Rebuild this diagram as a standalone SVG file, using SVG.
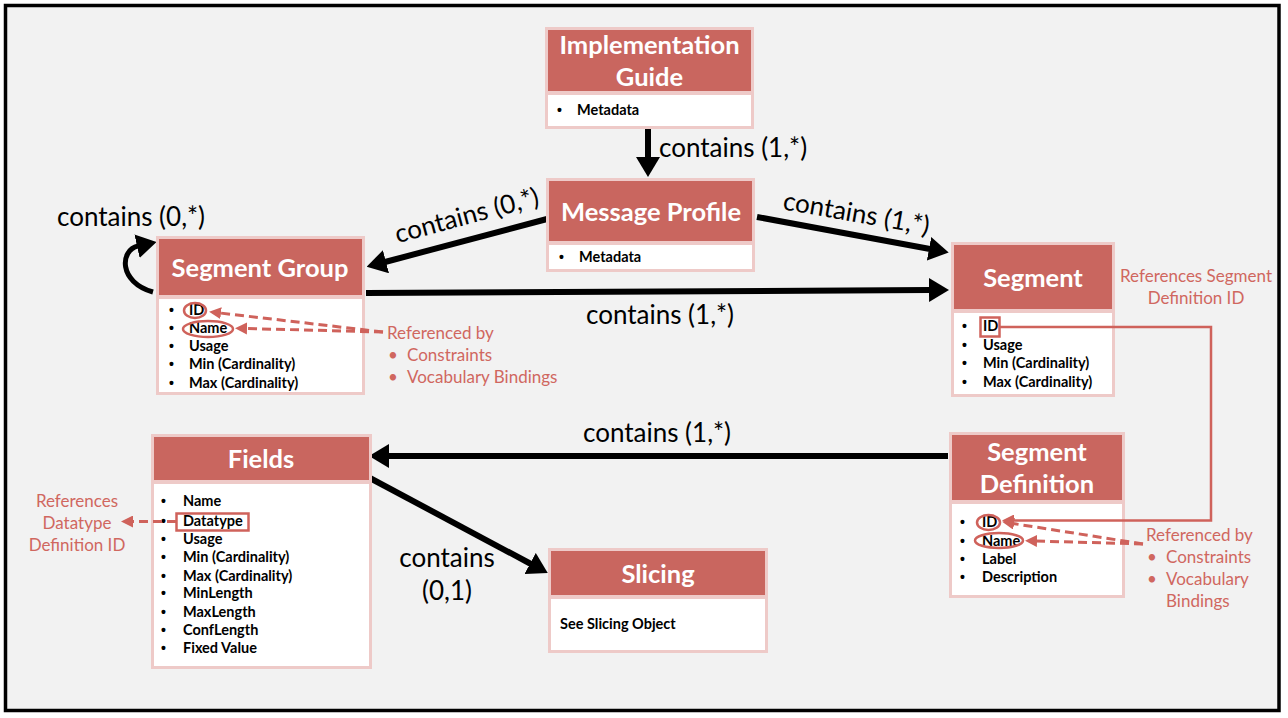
<svg xmlns="http://www.w3.org/2000/svg" width="1288" height="718" viewBox="0 0 1288 718">
<defs>
<style>
.hd{fill:#c9665f;stroke:#eecac8;stroke-width:3}
.bd{fill:#ffffff;stroke:#eecac8;stroke-width:3}
.tt{font-family:Lato,"Open Sans",sans-serif;font-weight:bold;font-size:25.5px;fill:#ffffff;text-anchor:middle}
.it{font-family:Lato,"Open Sans",sans-serif;font-weight:bold;font-size:14.5px;fill:#000000}
.bu{font-family:"Liberation Sans",sans-serif;font-weight:bold;font-size:14px;fill:#000000}
.lb{font-family:Lato,"Open Sans",sans-serif;font-size:26px;fill:#000000}
.an{font-family:Lato,"Open Sans",sans-serif;font-size:17px;fill:#d0675f}
.cn{fill:none;stroke:#000000;stroke-width:6}
.rd{fill:none;stroke:#cf625b;stroke-width:2.5}
.dash{fill:none;stroke:#cf625b;stroke-width:3;stroke-dasharray:9 5}
</style>
<marker id="ah" markerUnits="userSpaceOnUse" markerWidth="20" markerHeight="24" refX="1" refY="12" orient="auto">
<path d="M0,0 L20,12 L0,24 z" fill="#000000"/>
</marker>
<marker id="rh" markerUnits="userSpaceOnUse" markerWidth="12" markerHeight="12" refX="1" refY="6" orient="auto">
<path d="M0,0 L12,6 L0,12 z" fill="#cf625b"/>
</marker>
</defs>
<rect x="0" y="0" width="1288" height="718" fill="#ffffff"/>
<rect x="5.5" y="5.5" width="1273.5" height="705" fill="#f2f2f2" stroke="#000000" stroke-width="3.5"/>

<g id="connectors">
<path class="cn" d="M648,129 L648,158" marker-end="url(#ah)"/>
<path class="cn" d="M547,219 L385,262" marker-end="url(#ah)"/>
<path class="cn" d="M757,217 L930,249" marker-end="url(#ah)"/>
<path class="cn" d="M366,293 L930,290" marker-end="url(#ah)"/>
<path class="cn" d="M948,456 L388,456" marker-end="url(#ah)"/>
<path class="cn" d="M368,477 L531,564" marker-end="url(#ah)"/>
<path class="cn" d="M153,292 C118,282 120,250 138,246" marker-end="url(#ah)" style="stroke-width:5"/>
<text class="lb" x="659" y="157">contains (1,*)</text>
<text class="lb" text-anchor="middle" transform="translate(469,224) rotate(-15)">contains (0,*)</text>
<text class="lb" text-anchor="middle" transform="translate(855,222) rotate(10)">contains (1,*)</text>
<text class="lb" x="660" y="324" text-anchor="middle">contains (1,*)</text>
<text class="lb" x="657" y="442" text-anchor="middle">contains (1,*)</text>
<text class="lb" x="447" y="567" text-anchor="middle">contains</text>
<text class="lb" x="447" y="600" text-anchor="middle">(0,1)</text>
<text class="lb" x="131" y="226" text-anchor="middle">contains (0,*)</text>
</g>

<g id="implementation-guide">
<rect class="hd" x="546.5" y="28.5" width="206" height="64"/>
<rect class="bd" x="546.5" y="93.5" width="206" height="34"/>
<text class="tt" x="649.5" y="54">Implementation</text>
<text class="tt" x="649.5" y="86">Guide</text>
<text class="bu" x="557" y="115">•</text><text class="it" x="577" y="115">Metadata</text>
</g>

<g id="message-profile">
<rect class="hd" x="547.5" y="179.5" width="206" height="63"/>
<rect class="bd" x="547.5" y="243.5" width="206" height="27"/>
<text class="tt" x="651" y="221">Message Profile</text>
<text class="bu" x="559" y="262">•</text><text class="it" x="579" y="262">Metadata</text>
</g>

<g id="segment-group">
<rect class="hd" x="157.5" y="237.5" width="206" height="59"/>
<rect class="bd" x="157.5" y="297.5" width="206" height="96"/>
<text class="tt" x="260" y="277">Segment Group</text>
<text class="bu" x="169" y="315">•</text><text class="it" x="189" y="315">ID</text>
<text class="bu" x="169" y="333">•</text><text class="it" x="189" y="333">Name</text>
<text class="bu" x="169" y="351">•</text><text class="it" x="189" y="351">Usage</text>
<text class="bu" x="169" y="369">•</text><text class="it" x="189" y="369">Min (Cardinality)</text>
<text class="bu" x="169" y="388">•</text><text class="it" x="189" y="388">Max (Cardinality)</text>
</g>

<g id="segment">
<rect class="hd" x="952.5" y="243.5" width="161" height="67"/>
<rect class="bd" x="952.5" y="311.5" width="161" height="84"/>
<text class="tt" x="1033" y="287">Segment</text>
<text class="bu" x="962" y="331">•</text><text class="it" x="983" y="331">ID</text>
<text class="bu" x="962" y="350">•</text><text class="it" x="983" y="350">Usage</text>
<text class="bu" x="962" y="368">•</text><text class="it" x="983" y="368">Min (Cardinality)</text>
<text class="bu" x="962" y="387">•</text><text class="it" x="983" y="387">Max (Cardinality)</text>
</g>

<g id="segment-definition">
<rect class="hd" x="950.5" y="433.5" width="173" height="68"/>
<rect class="bd" x="950.5" y="502.5" width="173" height="94"/>
<text class="tt" x="1037" y="461">Segment</text>
<text class="tt" x="1037" y="493">Definition</text>
<text class="bu" x="960" y="527">•</text><text class="it" x="982" y="527">ID</text>
<text class="bu" x="960" y="546">•</text><text class="it" x="982" y="546">Name</text>
<text class="bu" x="960" y="564">•</text><text class="it" x="982" y="564">Label</text>
<text class="bu" x="960" y="582">•</text><text class="it" x="982" y="582">Description</text>
</g>

<g id="fields">
<rect class="hd" x="152.5" y="435.5" width="218" height="46"/>
<rect class="bd" x="152.5" y="482.5" width="218" height="185"/>
<text class="tt" x="261" y="468">Fields</text>
<text class="bu" x="161" y="506">•</text><text class="it" x="183" y="506">Name</text>
<text class="bu" x="161" y="526">•</text><text class="it" x="183" y="526">Datatype</text>
<text class="bu" x="161" y="544">•</text><text class="it" x="183" y="544">Usage</text>
<text class="bu" x="161" y="562">•</text><text class="it" x="183" y="562">Min (Cardinality)</text>
<text class="bu" x="161" y="581">•</text><text class="it" x="183" y="581">Max (Cardinality)</text>
<text class="bu" x="161" y="598">•</text><text class="it" x="183" y="598">MinLength</text>
<text class="bu" x="161" y="617">•</text><text class="it" x="183" y="617">MaxLength</text>
<text class="bu" x="161" y="635">•</text><text class="it" x="183" y="635">ConfLength</text>
<text class="bu" x="161" y="653">•</text><text class="it" x="183" y="653">Fixed Value</text>
</g>

<g id="slicing">
<rect class="hd" x="549.5" y="549.5" width="217" height="47"/>
<rect class="bd" x="549.5" y="597.5" width="217" height="54"/>
<text class="tt" x="658" y="583">Slicing</text>
<text class="it" x="560" y="629">See Slicing Object</text>
</g>

<g id="annotations">
<ellipse class="rd" cx="195" cy="310.5" rx="11" ry="7.5"/>
<ellipse class="rd" cx="208" cy="329" rx="25" ry="8"/>
<path class="dash" d="M383,332 L220,313" marker-end="url(#rh)"/>
<path class="dash" d="M383,332 L246,328.5" marker-end="url(#rh)"/>
<text class="an" x="387" y="339">Referenced by</text>
<text class="an" x="388" y="361">•</text><text class="an" x="407" y="361">Constraints</text>
<text class="an" x="388" y="383">•</text><text class="an" x="407" y="383">Vocabulary Bindings</text>

<rect class="rd" x="980.5" y="317.5" width="19" height="19"/>
<path class="rd" d="M1000,327 L1211,327 L1211,520.5 L1013,520.5" marker-end="url(#rh)"/>
<text class="an" x="1196" y="282" text-anchor="middle">References Segment</text>
<text class="an" x="1196" y="304" text-anchor="middle">Definition ID</text>

<ellipse class="rd" cx="988.5" cy="522.5" rx="11.5" ry="7.5"/>
<ellipse class="rd" cx="999" cy="540.5" rx="24" ry="7.5"/>
<path class="dash" d="M1143,544 L1013,523.5" marker-end="url(#rh)"/>
<path class="dash" d="M1143,544 L1036,541" marker-end="url(#rh)"/>
<text class="an" x="1146" y="541">Referenced by</text>
<text class="an" x="1147" y="563">•</text><text class="an" x="1166" y="563">Constraints</text>
<text class="an" x="1147" y="585">•</text><text class="an" x="1166" y="585">Vocabulary</text>
<text class="an" x="1166" y="607">Bindings</text>

<rect class="rd" x="176.5" y="513.5" width="72" height="17"/>
<path class="dash" d="M176,521.5 L132,521.5" marker-end="url(#rh)"/>
<text class="an" x="77" y="507" text-anchor="middle">References</text>
<text class="an" x="77" y="529" text-anchor="middle">Datatype</text>
<text class="an" x="77" y="551" text-anchor="middle">Definition ID</text>
</g>
</svg>
